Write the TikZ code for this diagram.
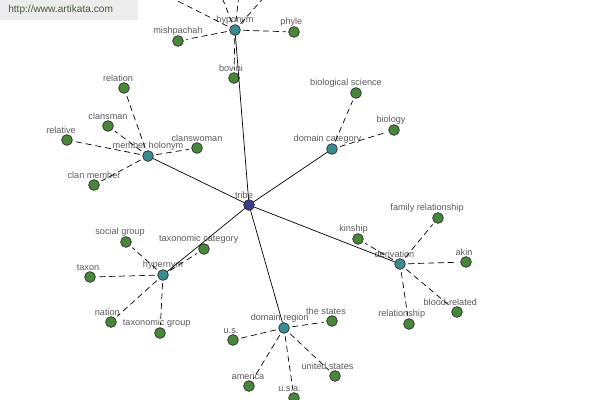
\documentclass[tikz,border=0pt]{standalone}
\usepackage{fontspec}
\setsansfont{Liberation Sans}
\definecolor{Leaf}{RGB}{72,134,58}
\definecolor{Rel}{RGB}{58,140,146}
\definecolor{Hub}{RGB}{58,62,140}
\definecolor{Lbl}{RGB}{90,90,90}
\definecolor{Banner}{RGB}{236,236,236}
\definecolor{Url}{RGB}{72,88,62}

\begin{document}
\begin{tikzpicture}[x=0.025cm,y=-0.025cm,line cap=round,line join=round,
  lbl/.style={font=\sffamily\fontsize{6.5}{7}\selectfont,text=Lbl,inner sep=0.5pt},
  every label/.style={lbl},
  label distance=-0.5pt,
  sh/.style={xshift=#1*0.709pt},
  dot/.style={circle,draw=black!85,line width=0.45pt,minimum size=0.27cm,inner sep=0pt},
  leaf/.style={dot,fill=Leaf},
  rel/.style={dot,fill=Rel},
  hub/.style={dot,fill=Hub},
  link/.style={line width=0.5pt},
  sub/.style={line width=0.5pt,dash pattern=on 4pt off 3pt,shorten <=2pt,shorten >=2pt}]
\useasboundingbox (0,0) rectangle (600,400);
\clip (0,0) rectangle (600,400);

% hub and relation nodes
\node[hub,label={[sh=-5]above:tribe}] (tribe) at (249,205) {};
\node[rel,label=above:hyponym] (hypo) at (235,30) {};
\node[rel,label=above:member holonym] (memb) at (148,156) {};
\node[rel,label={[sh=-4.5]above:domain category}] (dcat) at (332,149) {};
\node[rel,label={[sh=-5.5]above:derivation}] (deriv) at (400,264) {};
\node[rel,label=above:hypernym] (hyper) at (163,275) {};
\node[rel,label={[sh=-4.3]above:domain region}] (dreg) at (284,328) {};

% leaves
\node[leaf,label=above:mishpachah] (mish) at (178,41) {};
\node[leaf,label={[sh=-2.6]above:phyle}] (phyle) at (294,32) {};
\node[leaf,label={[sh=-3]above:bovini}] (bovini) at (234,78) {};
\coordinate (up1) at (152,-12);
\coordinate (up2) at (217,-15);
\coordinate (up3) at (240,-15);
\coordinate (up4) at (275,-15);

\node[leaf,label={[sh=-6]above:relation}] (relation) at (124,88) {};
\node[leaf,label=above:clansman] (clansman) at (108,126) {};
\node[leaf,label={[sh=-6]above:relative}] (relative) at (67,140) {};
\node[leaf,label=above:clanswoman] (clanswoman) at (197,148) {};
\node[leaf,label=above:clan member] (clanmember) at (94,185) {};

\node[leaf,label={[sh=-10]above:biological science}] (bioscience) at (356,93) {};
\node[leaf,label={[sh=-3]above:biology}] (biology) at (394,130) {};

\node[leaf,label={[sh=-4.5]above:kinship}] (kinship) at (358,239) {};
\node[leaf,label={[sh=-11]above:family relationship}] (famrel) at (438,218) {};
\node[leaf,label={[sh=-2]above:akin}] (akin) at (466,262) {};
\node[leaf,label={[sh=-6.7]above:blood-related}] (blood) at (457,312) {};
\node[leaf,label={[sh=-7.3]above:relationship}] (relship) at (409,324) {};

\node[leaf,label={[sh=-6]above:social group}] (socgroup) at (126,242) {};
\node[leaf,label={[sh=-5.3]above:taxonomic category}] (taxcat) at (204,249) {};
\node[leaf,label={[sh=-2]above:taxon}] (taxon) at (90,277) {};
\node[leaf,label={[sh=-3.7]above:nation}] (nation) at (111,322) {};
\node[leaf,label={[sh=-3.3]above:taxonomic group}] (taxgroup) at (160,333) {};

\node[leaf,label={[sh=-6]above:the states}] (thestates) at (332,321) {};
\node[leaf,label={[sh=-2]above:u.s.}] (us) at (233,340) {};
\node[leaf,label={[sh=-7.5]above:united states}] (unitedstates) at (335,376) {};
\node[leaf,label={[sh=-1]above:america}] (america) at (249,386) {};
\node[leaf,label={[sh=-4.5]above:u.s.a.}] (usa) at (294,398) {};

% solid links from tribe
\foreach \r in {hypo,memb,dcat,deriv,hyper,dreg}
  \draw[link] (tribe) -- (\r);

% dashed links to leaves
\foreach \l in {mish,phyle,bovini,up1,up2,up3,up4}
  \draw[sub] (hypo) -- (\l);
\foreach \l in {relation,clansman,relative,clanswoman,clanmember}
  \draw[sub] (memb) -- (\l);
\foreach \l in {bioscience,biology}
  \draw[sub] (dcat) -- (\l);
\foreach \l in {kinship,famrel,akin,blood,relship}
  \draw[sub] (deriv) -- (\l);
\foreach \l in {socgroup,taxcat,taxon,nation,taxgroup}
  \draw[sub] (hyper) -- (\l);
\foreach \l in {thestates,us,unitedstates,america,usa}
  \draw[sub] (dreg) -- (\l);

% site banner
\node[fill=Banner,anchor=north west,minimum height=0.5cm,inner xsep=0.2cm,
  text width=3.05cm,align=left,text=Url,font=\sffamily\fontsize{7.2}{8}\selectfont]
  (site) at (0,0) {http://www.artikata.com};
\end{tikzpicture}
\end{document}
